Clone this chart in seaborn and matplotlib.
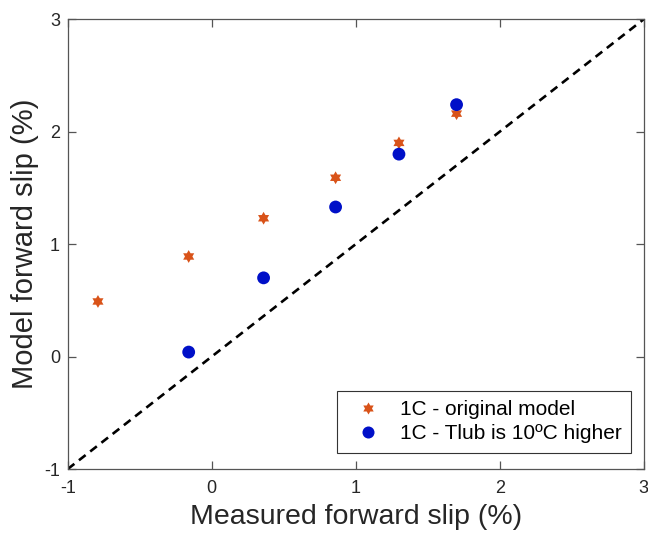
import matplotlib
matplotlib.use("Agg")
import matplotlib.pyplot as plt
import seaborn as sns
import pandas as pd
import numpy as np

# Data
measured_orig = [-0.79, -0.16, 0.36, 0.86, 1.30, 1.70]
model_orig = [0.49, 0.89, 1.23, 1.59, 1.90, 2.16]
measured_tlub = [-0.16, 0.36, 0.86, 1.30, 1.70]
model_tlub = [0.04, 0.70, 1.33, 1.80, 2.24]
label_orig = "1C - original model"
label_tlub = "1C - Tlub is 10ºC higher"
ticks = [-1, 0, 1, 2, 3]
ref_line = [-1, 3]

sns.set_style("white")
plt.rcParams["font.family"] = ["Liberation Sans", "DejaVu Sans"]

df = pd.DataFrame({
    "measured": measured_orig + measured_tlub,
    "model": model_orig + model_tlub,
    "series": [label_orig] * len(measured_orig) + [label_tlub] * len(measured_tlub),
})

# hexagram marker (MATLAB 'h' style)
ang = np.pi / 2 + np.arange(12) * np.pi / 6
rad = np.where(np.arange(12) % 2 == 0, 1.0, 0.58)
hexagram = list(zip(rad * np.cos(ang), rad * np.sin(ang)))

fig = plt.figure(figsize=(6.48, 5.33), dpi=100)
ax = fig.add_axes([0.1045, 0.120, 0.889, 0.844])

ax.plot(ref_line, ref_line, color="black", linestyle=(0, (3.2, 2.2)), linewidth=1.9, zorder=1)

sns.scatterplot(
    data=df, x="measured", y="model", hue="series", style="series",
    palette={label_orig: "#D95319", label_tlub: "#0010C8"},
    markers={label_orig: hexagram, label_tlub: "o"},
    s=75, edgecolor="none", linewidth=0, ax=ax, zorder=3,
)
for coll, sz in zip(ax.collections, [85, 95]):
    coll.set_sizes([sz])

ax.set_xlim(-1, 3)
ax.set_ylim(-1, 3)
ax.set_xticks(ticks)
ax.set_yticks(ticks)
ax.set_xticklabels([str(t) for t in ticks])
ax.set_yticklabels([str(t) for t in ticks])

text_color = "#262626"
for sp in ax.spines.values():
    sp.set_visible(True)
    sp.set_color("#555555")
    sp.set_linewidth(0.9)
ax.tick_params(axis="both", which="both", direction="in", length=5.5, width=0.9,
               color="#555555", labelsize=13, labelcolor=text_color,
               top=True, right=True, bottom=True, left=True)
ax.tick_params(axis="x", pad=8)
ax.tick_params(axis="y", pad=5.5)

ax.set_xlabel("Measured forward slip (%)", fontsize=20.5, color=text_color, labelpad=5)
ax.set_ylabel("Model forward slip (%)", fontsize=21, color=text_color, labelpad=4)

leg = ax.legend(loc="lower right", bbox_to_anchor=(0.978, 0.036),
                fontsize=15, frameon=True, fancybox=False,
                edgecolor="#333333", framealpha=1, borderpad=0.45,
                handletextpad=0.55, labelspacing=0.25, borderaxespad=0,
                handlelength=2.0, markerscale=1.0)
leg.get_frame().set_linewidth(0.8)
for txt in leg.get_texts():
    txt.set_color("black")

fig.savefig("out.png", dpi=100)
